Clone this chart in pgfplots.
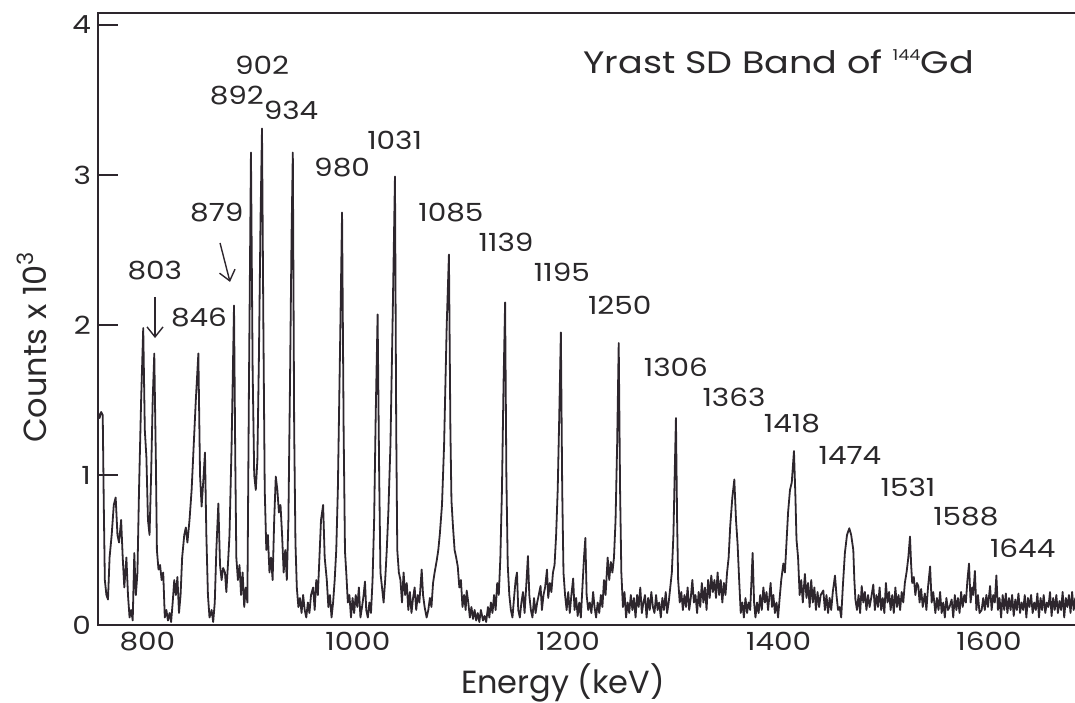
\documentclass[border=0pt]{standalone}
\usepackage{fontspec}
\setmainfont{Poppins}
\newfontfamily\widefont[FakeStretch=1.18]{Poppins}
\usepackage{pgfplots}
\pgfplotsset{compat=1.18}
\usetikzlibrary{arrows.meta}
\definecolor{ink}{RGB}{45,38,45}
\definecolor{txt}{RGB}{42,40,42}

% gamma-ray spectrum: energy (keV) vs counts (x 10^3)
\pgfplotstableread{
E v
753 1.42
754.5 1.38
756 1.42
757.5 1.40
758.5 0.80
759.5 0.30
761 0.20
762.5 0.17
764 0.45
766 0.60
768 0.80
769.8 0.85
771.5 0.60
773 0.55
775 0.70
776.5 0.45
778 0.25
780 0.45
781.5 0.20
783 0.05
784.5 0.10
786 0.03
787.5 0.48
789 0.20
790.5 0.35
792 0.90
794 1.50
796 1.98
797.5 1.30
799 1.12
800.5 0.70
802 0.60
803.5 1.00
805 1.50
806.5 1.81
808 1.10
809 0.50
810.5 0.37
812 0.40
813.5 0.30
815 0.35
816.5 0.05
818 0.10
819.5 0.03
821 0.08
822.5 0.02
824 0.15
825.5 0.30
827 0.20
828.5 0.32
830 0.08
831.5 0.20
833 0.45
835 0.60
836.5 0.65
838 0.55
840 0.70
842 0.90
844 1.20
846 1.50
848.4 1.81
850 1.00
851.5 0.79
853 0.95
854.7 1.15
856 0.60
857.5 0.20
859 0.05
861 0.10
862.5 0.02
864 0.15
865.5 0.50
867.4 0.81
869 0.40
870.5 0.30
872 0.38
873.7 0.35
875 0.22
876.5 0.40
878 0.60
880 1.20
882.3 2.13
883.5 1.10
884.5 0.45
886 0.30
887.5 0.40
889 0.20
890.5 0.35
892 0.12
893.5 0.25
895 0.15
896.5 1.60
898.4 3.15
900 1.70
901.5 1.00
903 0.90
904.5 1.10
906 1.80
907.5 2.70
908.9 3.31
910.2 2.00
911.5 0.90
913 0.50
914.5 0.60
916 0.35
917.5 0.45
919 0.30
920.5 0.70
922 0.99
923.5 0.90
925 0.75
926.5 0.80
928 0.60
929.5 0.35
931 0.50
932.5 0.30
934 0.70
935.5 1.60
937 2.60
938.2 3.15
939.5 1.30
940.7 0.55
942 0.25
943.5 0.12
945 0.18
946.5 0.08
948 0.20
949.5 0.10
951 0.05
952.5 0.15
954 0.08
955.5 0.20
957.5 0.25
959 0.10
960.5 0.30
962 0.20
963.5 0.45
965 0.70
967 0.80
968.5 0.45
970.5 0.30
972 0.12
973.5 0.20
975 0.05
976.5 0.15
978 0.30
979.5 0.50
981 0.90
983 1.80
985 2.75
986.5 1.30
987.8 0.49
989 0.35
990.5 0.15
992 0.20
993.5 0.05
995 0.18
996.5 0.08
998 0.20
999.5 0.12
1001 0.25
1002.5 0.05
1004 0.12
1005.5 0.20
1006.8 0.29
1008 0.10
1009.5 0.05
1011 0.15
1012.5 0.08
1014 0.30
1015.5 0.70
1017 1.40
1018.8 2.07
1020.3 1.00
1021.5 0.35
1023 0.25
1024.5 0.15
1026 0.30
1027.5 0.50
1029 0.75
1031 1.20
1033 2.00
1035.3 2.99
1036.5 1.30
1037.5 0.50
1039 0.35
1040.5 0.30
1042 0.15
1043.5 0.35
1045 0.20
1046.5 0.28
1048 0.10
1049.5 0.22
1051 0.08
1052.5 0.18
1054 0.25
1055.5 0.10
1057 0.20
1058.5 0.15
1060.7 0.37
1062 0.20
1063.5 0.12
1065.4 0.05
1067 0.10
1068.5 0.18
1070 0.12
1071.5 0.28
1073 0.35
1075 0.43
1076.5 0.50
1078 0.61
1080 0.80
1082 1.20
1084.5 2.00
1086.6 2.47
1088 1.30
1089 0.83
1090.5 0.65
1092 0.50
1093.5 0.45
1095 0.39
1096.5 0.25
1098 0.30
1099.5 0.12
1101 0.20
1102.5 0.10
1103.5 0.23
1105 0.15
1106.5 0.05
1108 0.12
1109.5 0.04
1111 0.10
1112.5 0.03
1114 0.08
1115.5 0.02
1117 0.10
1119 0.03
1120.5 0.06
1122 0.02
1123.7 0.12
1125 0.05
1126.5 0.15
1128 0.08
1129.5 0.20
1131 0.10
1132.5 0.28
1134 0.20
1135.5 0.45
1137 0.90
1138.5 1.60
1140 2.15
1141.2 1.00
1142.5 0.40
1144 0.20
1145.5 0.10
1147 0.05
1148.5 0.18
1150 0.30
1151.3 0.35
1152.5 0.10
1154 0.05
1155.5 0.15
1157 0.22
1158.5 0.08
1160 0.25
1161.7 0.46
1163 0.20
1164.5 0.10
1166 0.05
1167.5 0.18
1169 0.08
1170.5 0.15
1172 0.20
1173.7 0.26
1175 0.10
1176.5 0.20
1178 0.25
1179.8 0.37
1181 0.18
1182.5 0.28
1184 0.22
1185.5 0.35
1187 0.40
1188.5 0.60
1190 0.90
1191.5 1.40
1193 1.95
1194.3 0.90
1195.5 0.35
1197 0.20
1198.5 0.10
1200 0.22
1201.5 0.08
1203 0.20
1204.7 0.31
1206 0.10
1207.5 0.18
1209 0.06
1210.5 0.15
1212 0.05
1213.5 0.25
1215 0.45
1216.3 0.58
1217.5 0.20
1219 0.10
1220.5 0.15
1222 0.08
1223.7 0.22
1225 0.12
1226.5 0.05
1228 0.15
1229.5 0.08
1231 0.20
1232.5 0.12
1234 0.30
1235.5 0.20
1237.5 0.45
1239 0.30
1240.5 0.42
1242 0.35
1243.5 0.45
1245 0.70
1246.5 1.20
1248 1.88
1249.3 0.90
1250.5 0.35
1252 0.12
1253.5 0.22
1255 0.05
1256.5 0.15
1258 0.08
1259.5 0.20
1261 0.10
1262.5 0.18
1264 0.05
1265.5 0.20
1267 0.12
1268.5 0.25
1270 0.08
1271.5 0.15
1273 0.20
1274.5 0.05
1276 0.18
1277.5 0.10
1279 0.22
1280.5 0.12
1282 0.08
1283.5 0.20
1285 0.10
1286.5 0.15
1288 0.05
1289.5 0.18
1291 0.10
1292.7 0.22
1294 0.08
1295.5 0.15
1297 0.25
1298.5 0.35
1300 0.60
1301.2 1.00
1302.4 1.38
1303.5 0.70
1304.5 0.30
1306 0.15
1307.5 0.22
1309 0.10
1310.5 0.20
1312 0.12
1313.5 0.25
1315 0.10
1316.5 0.18
1318 0.30
1319.5 0.15
1321 0.20
1322.5 0.08
1324 0.22
1325.5 0.12
1327 0.28
1328.5 0.15
1330 0.25
1331.5 0.10
1333 0.30
1334.5 0.18
1336 0.33
1337.5 0.22
1339 0.30
1340.5 0.18
1342 0.35
1343.5 0.20
1345 0.30
1346.5 0.15
1348 0.28
1349.5 0.20
1351 0.35
1352.5 0.45
1354 0.66
1356 0.85
1357.9 0.97
1359.5 0.70
1361 0.54
1362.5 0.30
1364 0.08
1365.5 0.15
1367 0.05
1368.5 0.18
1370 0.08
1371.5 0.15
1373 0.10
1375.3 0.48
1376.7 0.15
1378 0.05
1379.5 0.15
1381 0.08
1382.5 0.20
1384 0.10
1385.5 0.25
1387 0.15
1388.5 0.22
1390 0.10
1392.4 0.28
1393.7 0.12
1395 0.20
1396.5 0.08
1398 0.15
1399.5 0.05
1401 0.18
1402.5 0.30
1404.5 0.41
1406 0.35
1407.5 0.55
1409 0.75
1410.8 0.90
1412.5 0.95
1414.6 1.16
1416 0.85
1417 0.57
1418.5 0.45
1420 0.20
1421.5 0.30
1423 0.15
1425 0.34
1426.5 0.18
1428 0.28
1429.5 0.12
1431 0.30
1432.5 0.15
1434 0.25
1435.5 0.10
1437 0.22
1438.5 0.12
1440 0.20
1442.5 0.23
1444 0.10
1445.5 0.20
1447 0.08
1448.5 0.18
1450 0.10
1451.5 0.22
1453.6 0.33
1455 0.20
1456.5 0.10
1458 0.12
1459.5 0.05
1461 0.25
1463 0.48
1465 0.60
1467.2 0.645
1469 0.60
1471 0.50
1472 0.30
1473 0.17
1474.5 0.10
1476 0.20
1477.5 0.08
1479 0.26
1480.5 0.15
1482 0.22
1483.5 0.10
1485 0.20
1486.5 0.12
1488 0.18
1490 0.27
1491.5 0.10
1493 0.20
1494.5 0.12
1496 0.25
1497.5 0.10
1499 0.18
1500.5 0.08
1502 0.28
1503.5 0.15
1505 0.22
1506.5 0.10
1508 0.20
1509.5 0.08
1511 0.25
1512.5 0.12
1514 0.20
1515.5 0.10
1517 0.22
1518.5 0.15
1520 0.28
1521.7 0.355
1523.3 0.45
1524.9 0.59
1526 0.40
1527 0.28
1528.5 0.32
1530 0.20
1531.5 0.28
1532.8 0.26
1534 0.15
1535.5 0.24
1537 0.12
1539 0.21
1540.5 0.10
1542 0.25
1544 0.39
1545.5 0.15
1547 0.22
1549 0.08
1550.5 0.18
1552 0.10
1553.5 0.22
1555 0.08
1556.5 0.15
1558 0.05
1559.5 0.18
1561 0.10
1562.5 0.12
1564.5 0.17
1566 0.05
1567.5 0.20
1569 0.10
1570.5 0.18
1572 0.08
1573.5 0.22
1575 0.12
1576.5 0.20
1578 0.15
1579.5 0.30
1581 0.41
1582.5 0.15
1584 0.25
1585 0.20
1586.6 0.36
1588 0.10
1589.5 0.20
1591 0.08
1593 0.10
1594.5 0.18
1596 0.10
1597.5 0.20
1599 0.12
1601 0.26
1602.5 0.10
1604 0.20
1605.5 0.15
1607 0.33
1608.5 0.10
1610 0.18
1611.5 0.05
1613 0.20
1614.5 0.10
1616 0.21
1617.5 0.08
1619 0.18
1620.5 0.10
1622 0.20
1623.5 0.06
1625 0.17
1626.5 0.10
1628 0.21
1629.5 0.08
1631 0.15
1632.5 0.10
1634 0.20
1635.5 0.05
1637 0.18
1638.5 0.12
1640 0.20
1641.5 0.08
1643 0.15
1644.5 0.10
1646 0.21
1647.5 0.05
1649 0.18
1650.5 0.10
1652 0.20
1653.5 0.08
1655 0.15
1656.5 0.12
1658 0.22
1659.5 0.06
1661 0.18
1662.5 0.10
1664 0.20
1665.5 0.08
1667 0.16
1668.5 0.10
1670 0.22
1671.5 0.05
1673 0.18
1674.5 0.12
1676 0.20
1677.5 0.08
1679 0.22
1680.5 0.10
1682 0.18
1683.5 0.12
1685 0.20
1686.5 0.10
}\spectrum

\begin{document}
\begin{tikzpicture}
\useasboundingbox (-49pt,-38.5pt) rectangle (488.5pt,312.5pt);
\begin{axis}[
  at={(0,0)}, anchor=south west,
  scale only axis, width=491pt, height=306pt,
  xmin=753, xmax=1686.5, ymin=0, ymax=4.08,
  xtick={800,1000,1200,1400,1600},
  ytick={0,1,2,3,4},
  /pgf/number format/1000 sep={},
  /pgf/number format/assume math mode=true,
  ticklabel style={font=\widefont\fontsize{12.5}{14}\selectfont, text=txt},
  tick align=inside,
  ytick pos=left, xtick pos=bottom,
  major tick length=10pt,
  ytick style={ink, line width=0.8pt},
  xtick style={draw=none},
  axis line style={ink, line width=1pt},
  xlabel={Energy (keV)},
  ylabel={Counts x 10\textsuperscript{3}},
  label style={font=\fontsize{16}{18}\selectfont, text=txt},
  xlabel style={at={(rel axis cs:0.4735,0)}, anchor=center, yshift=-29pt},
  ylabel style={at={(rel axis cs:0,0.454)}, anchor=center, yshift=33pt},
  every node/.append style={text=txt},
]
\addplot[ink, line width=0.9pt, line join=round, no markers] table[x=E, y=v] {\spectrum};

\begin{scope}[every node/.style={font=\widefont\fontsize{12.5}{14}\selectfont, text=txt, inner sep=0pt}]
\node at (axis cs:909,3.73) {902};
\node at (axis cs:885,3.53) {892};
\node at (axis cs:936.5,3.43) {934};
\node at (axis cs:985,3.05) {980};
\node at (axis cs:1035,3.23) {1031};
\node at (axis cs:866,2.75) {879};
\node at (axis cs:807,2.36) {803};
\node at (axis cs:849,2.05) {846};
\node at (axis cs:1088.5,2.75) {1085};
\node at (axis cs:1141,2.55) {1139};
\node at (axis cs:1194,2.35) {1195};
\node at (axis cs:1249,2.13) {1250};
\node at (axis cs:1302.4,1.72) {1306};
\node at (axis cs:1357.6,1.52) {1363};
\node at (axis cs:1412.7,1.34) {1418};
\node at (axis cs:1467.8,1.13) {1474};
\node at (axis cs:1523,0.92) {1531};
\node at (axis cs:1578,0.72) {1588};
\node at (axis cs:1632,0.51) {1644};
\end{scope}

\draw[ink, line width=0.7pt, -{Straight Barb[length=5pt,width=8pt]}] (axis cs:807.2,2.187) -- (axis cs:807.2,1.913);
\draw[ink, line width=0.7pt, -{Straight Barb[length=5pt,width=8pt]}] (axis cs:869,2.547) -- (axis cs:878.5,2.287);

\node[anchor=west, inner sep=0pt, font=\widefont\fontsize{15.5}{18}\selectfont, text=txt]
  at (axis cs:1214,3.753) {Yrast SD Band of \raisebox{0.78ex}{\fontsize{7.5}{8}\selectfont 144}Gd};
\end{axis}
\end{tikzpicture}
\end{document}
